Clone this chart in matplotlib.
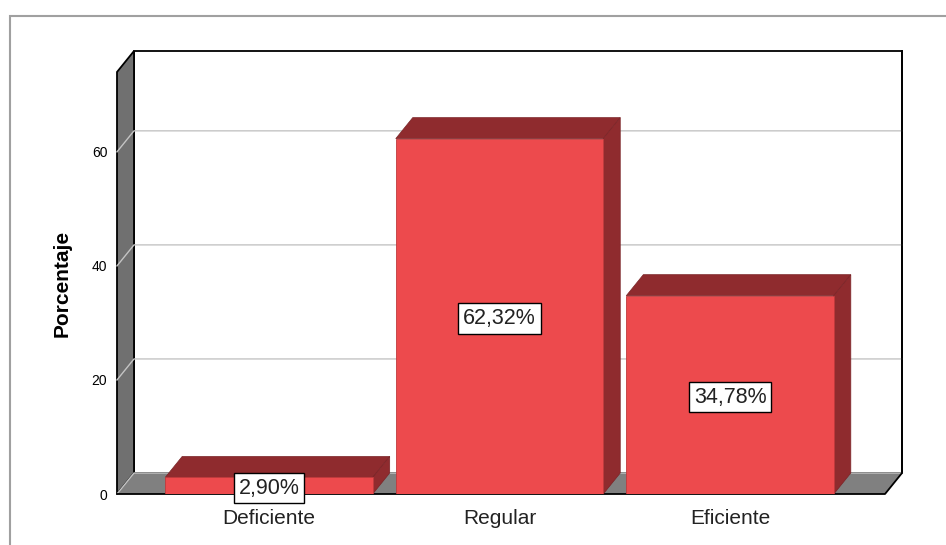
import matplotlib.pyplot as plt
from matplotlib.patches import Polygon, Rectangle

# datos del grafico
categorias = ['Deficiente', 'Regular', 'Eficiente']
porcentajes = [2.90, 62.32, 34.78]
etiquetas = ['2,90%', '62,32%', '34,78%']
yticks = [0, 20, 40, 60]

plt.rcParams['font.family'] = ['Liberation Sans', 'DejaVu Sans']

W, H = 946, 545
fig = plt.figure(figsize=(W / 100, H / 100), dpi=100)

# frente del grafico (plano delantero)
ax = fig.add_axes([117 / W, (H - 494) / H, 768 / W, (494 - 72) / H])
xmin, xmax = -0.659, 2.672
ymin, ymax = 0, 74
ax.set_xlim(xmin, xmax)
ax.set_ylim(ymin, ymax)
ax.patch.set_visible(False)
for s in ax.spines.values():
    s.set_visible(False)

# profundidad 3D en unidades de datos
ddx = 17 / 768 * (xmax - xmin)
ddy = 21 / 422 * (ymax - ymin)

frente = '#ED4A4D'
oscuro = '#8F2B2E'
gris_pared = '#707070'
gris_piso = '#808080'
grid_col = '#c4c4c4'

# pared del fondo
ax.add_patch(Rectangle((xmin + ddx, ddy), xmax - xmin, ymax - ymin, facecolor='white',
                       edgecolor='black', lw=1.3, clip_on=False, zorder=1))
# pared lateral izquierda
ax.add_patch(Polygon([(xmin, 0), (xmin, ymax), (xmin + ddx, ymax + ddy), (xmin + ddx, ddy)],
                     closed=True, facecolor=gris_pared, edgecolor='black', lw=1.3,
                     clip_on=False, zorder=2))
# piso
ax.add_patch(Polygon([(xmin, 0), (xmax, 0), (xmax + ddx, ddy), (xmin + ddx, ddy)],
                     closed=True, facecolor=gris_piso, edgecolor='none',
                     clip_on=False, zorder=2))
ax.plot([xmin, xmax, xmax + ddx, xmax + ddx], [0, 0, ddy, ymax + ddy], color='black',
        lw=1.3, clip_on=False, zorder=2.5)

# lineas de cuadricula
for t in yticks:
    ax.plot([xmin, xmin + ddx, xmax + ddx], [t, t + ddy, t + ddy], color=grid_col,
            lw=1, clip_on=False, zorder=2.2)

# barras 3D
ancho = 0.9
pos = list(range(len(categorias)))
ax.bar(pos, porcentajes, width=ancho, color=frente, edgecolor='#c03a3c', lw=0.6, zorder=4)
for x, v, lab in zip(pos, porcentajes, etiquetas):
    x0, x1 = x - ancho / 2, x + ancho / 2
    ax.add_patch(Polygon([(x0, v), (x1, v), (x1 + ddx, v + ddy), (x0 + ddx, v + ddy)],
                         closed=True, facecolor=oscuro, edgecolor='#7a2427', lw=0.5,
                         clip_on=False, zorder=3.5))
    ax.add_patch(Polygon([(x1, 0), (x1, v), (x1 + ddx, v + ddy), (x1 + ddx, ddy)],
                         closed=True, facecolor=oscuro, edgecolor='#7a2427', lw=0.5,
                         clip_on=False, zorder=3.5))
    ax.text(x, v / 2 - 0.4, lab, ha='center', va='center', fontsize=15.5, color='#222222',
            zorder=6, bbox=dict(boxstyle='square,pad=0.22', facecolor='white',
                                edgecolor='black', lw=1))

ax.set_xticks(pos)
ax.set_xticklabels(categorias, fontsize=15, color='#222222')
ax.set_yticks(yticks)
ax.set_yticklabels([str(t) for t in yticks], fontsize=10)
ax.tick_params(axis='y', length=0, pad=7)
ax.tick_params(axis='x', length=0, pad=11)

fig.text(62 / W, 1 - 283 / H, 'Porcentaje', rotation=90, ha='center', va='center',
         fontsize=15, fontweight='bold')

# marco exterior
fig.add_artist(Rectangle((10 / W, -0.1), 2, 1 - 16 / H + 0.1, transform=fig.transFigure,
                         fill=False, edgecolor='#a0a0a0', lw=1.5))

fig.savefig('out.png', dpi=100)
